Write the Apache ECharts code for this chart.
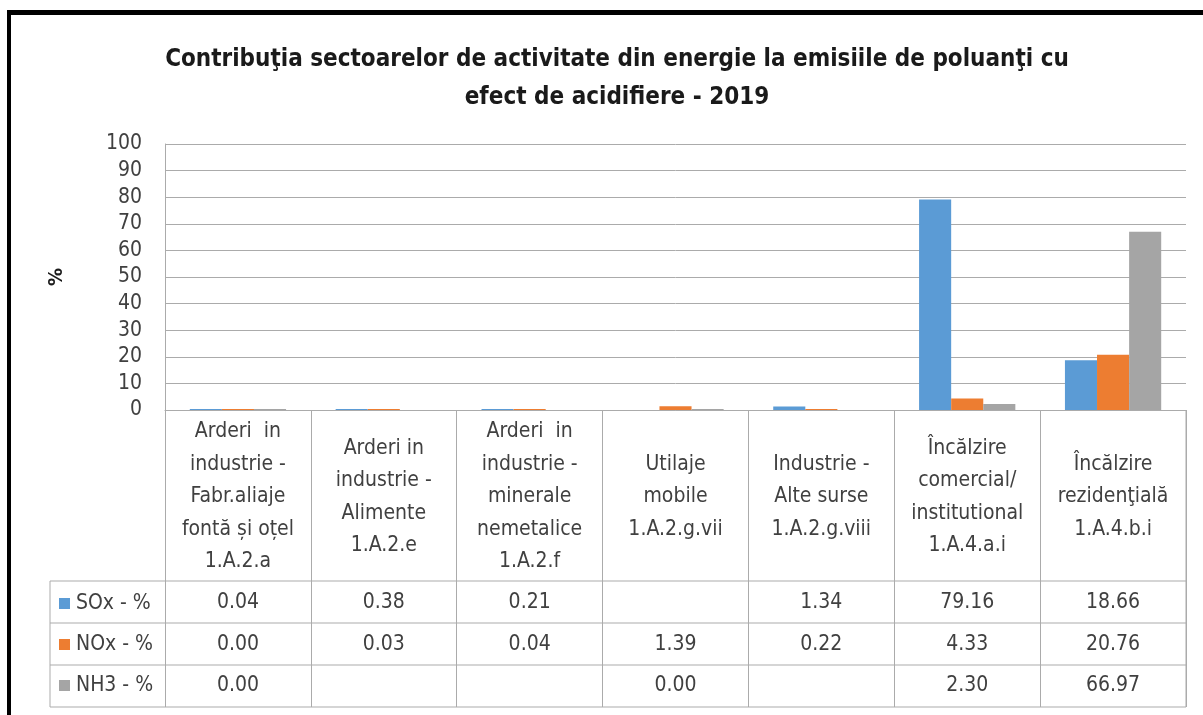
<!DOCTYPE html>
<html>
<head>
<meta charset="utf-8">
<script src="https://cdn.jsdelivr.net/npm/echarts@6/dist/echarts.min.js"></script>
<style>
    html, body { margin: 0; padding: 0; background: #fff; }
    #chart { width: 1203px; height: 715px; }
</style>
</head>
<body>
<div id="chart"></div>
<script>
// categories (column headers of the data table)
var categories = [
    "Arderi  in\nindustrie -\nFabr.aliaje\nfontă și oțel\n1.A.2.a",
    "Arderi in\nindustrie -\nAlimente\n1.A.2.e",
    "Arderi  in\nindustrie -\nminerale\nnemetalice\n1.A.2.f",
    "Utilaje\nmobile\n1.A.2.g.vii",
    "Industrie -\nAlte surse\n1.A.2.g.viii",
    "Încălzire\ncomercial/\ninstitutional\n1.A.4.a.i",
    "Încălzire\nrezidenţială\n1.A.4.b.i"
];
var seriesNames = ["SOx - %", "NOx - %", "NH3 - %"];
var sox = [0.04, 0.38, 0.21, null, 1.34, 79.16, 18.66];
var nox = [0.00, 0.03, 0.04, 1.39, 0.22, 4.33, 20.76];
var nh3 = [0.00, null, null, 0.00, null, 2.30, 66.97];
var yTicks = [0, 10, 20, 30, 40, 50, 60, 70, 80, 90, 100];

var colors = ["#5b9bd5", "#ed7d31", "#a5a5a5"];
var font = "'Liberation Sans Narrow', 'DejaVu Sans Condensed', 'Open Sans', sans-serif";
var txt = "#404040";
var lineCol = "#ababab";

var allSeries = [sox, nox, nh3];
var rowOffsets = [193, 235, 276]; // table rows below the zero line

function fmt(v) {
    return v === null ? "" : v.toFixed(2);
}

var chart = echarts.init(document.getElementById("chart"));

var xAxes = [{
    type: "category",
    data: categories,
    axisLine: { lineStyle: { color: lineCol, width: 1 } },
    axisTick: { show: true, length: 297, lineStyle: { color: lineCol } },
    axisLabel: {
        interval: 0,
        margin: 87,
        verticalAlign: "middle",
        lineHeight: 32.5,
        fontSize: 21,
        fontFamily: font,
        color: txt
    }
}];
allSeries.forEach(function (arr, i) {
    xAxes.push({
        type: "category",
        data: arr.map(fmt),
        position: "bottom",
        offset: rowOffsets[i],
        axisLine: { show: false },
        axisTick: { show: false },
        axisLabel: {
            interval: 0,
            margin: 0,
            verticalAlign: "middle",
            fontSize: 21,
            fontFamily: font,
            color: txt
        }
    });
});

// table grid lines and legend keys
var graphics = [];
[581, 623, 665, 707].forEach(function (y) {
    graphics.push({
        type: "line",
        shape: { x1: 50, y1: y, x2: 1186, y2: y },
        style: { stroke: lineCol, lineWidth: 1 }
    });
});
graphics.push({
    type: "line",
    shape: { x1: 50, y1: 581, x2: 50, y2: 707 },
    style: { stroke: lineCol, lineWidth: 1 }
});
graphics.push({
    type: "line",
    shape: { x1: 1186, y1: 410, x2: 1186, y2: 707 },
    style: { stroke: lineCol, lineWidth: 1 }
});
seriesNames.forEach(function (name, i) {
    var cy = 603 + i * 41;
    graphics.push({
        type: "rect",
        shape: { x: 59, y: cy - 5, width: 11, height: 11 },
        style: { fill: colors[i] }
    });
    graphics.push({
        type: "text",
        x: 76,
        y: cy + 1,
        style: {
            text: name,
            font: "21px " + font,
            fill: txt,
            verticalAlign: "middle"
        }
    });
});
// outer frame (black top and left edge)
graphics.push({
    type: "rect",
    shape: { x: 7, y: 10, width: 1196, height: 5 },
    style: { fill: "#000" }
});
graphics.push({
    type: "rect",
    shape: { x: 7, y: 10, width: 4, height: 705 },
    style: { fill: "#000" }
});

var option = {
    animation: false,
    color: colors,
    title: {
        text: "Contribuţia sectoarelor de activitate din energie la emisiile de poluanţi cu\nefect de acidifiere - 2019",
        left: 612,
        top: 36,
        textAlign: "center",
        textStyle: {
            fontFamily: font,
            fontSize: 24,
            fontWeight: "bold",
            color: "#1a1a1a",
            lineHeight: 38
        }
    },
    grid: {
        left: 165,
        right: 17,
        top: 144,
        bottom: 305,
        containLabel: false
    },
    xAxis: xAxes,
    yAxis: {
        type: "value",
        min: yTicks[0],
        max: yTicks[yTicks.length - 1],
        interval: 10,
        name: "%",
        nameLocation: "middle",
        nameGap: 98,
        nameRotate: 90,
        nameTextStyle: {
            fontFamily: font,
            fontSize: 20,
            fontWeight: "bold",
            color: "#1a1a1a"
        },
        axisLine: { show: true, lineStyle: { color: lineCol } },
        axisTick: { show: false },
        axisLabel: {
            margin: 23,
            fontSize: 21,
            fontFamily: font,
            color: txt
        },
        splitLine: { lineStyle: { color: lineCol } }
    },
    series: allSeries.map(function (arr, i) {
        return {
            name: seriesNames[i],
            type: "bar",
            xAxisIndex: 0,
            data: arr,
            barGap: "0%",
            barCategoryGap: "34%",
            barMinHeight: 1
        };
    }),
    graphic: graphics
};

chart.setOption(option);
</script>
</body>
</html>
